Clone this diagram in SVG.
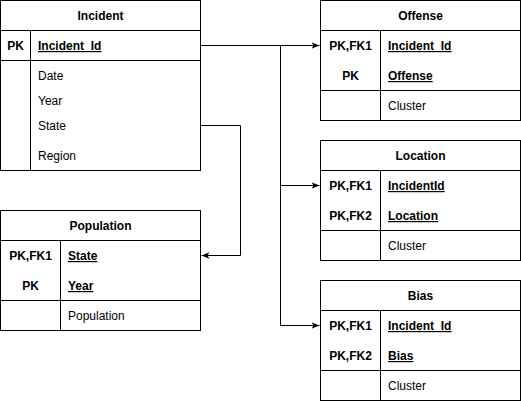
<svg xmlns="http://www.w3.org/2000/svg" width="521" height="402" viewBox="0 0 521 402">
<defs>
<style>
text{font-family:"Liberation Sans",Arial,sans-serif;font-size:12px;fill:#000}
.h{font-weight:bold;text-anchor:middle}
.k{font-weight:bold;text-anchor:middle}
.u{font-weight:bold;text-decoration:underline}
.box{fill:#fff;stroke:#000;stroke-width:1}
.ln{stroke:#000;stroke-width:1;fill:none}
</style>
<marker id="arr" viewBox="0 0 10 10" refX="10" refY="5" markerWidth="8" markerHeight="8" markerUnits="userSpaceOnUse" orient="auto">
<path d="M0,1 L10,5 L0,9 L2.5,5 Z" fill="#000"/>
</marker>
</defs>
<rect width="521" height="402" fill="#fff"/>
<g id="connectors">
<path class="ln" d="M200.5,45.5 H319.5" marker-end="url(#arr)"/>
<path class="ln" d="M280.5,45.5 V325.5 H319.5" marker-end="url(#arr)"/>
<path class="ln" d="M280.5,185.5 H319.5" marker-end="url(#arr)"/>
<path class="ln" d="M200.5,125.5 H240.5 V255.5 H201.5" marker-end="url(#arr)"/>
</g>
<g id="incident">
<rect class="box" x="0.5" y="0.5" width="200" height="170"/>
<path class="ln" d="M0.5,30.5 H200.5 M0.5,60.5 H200.5 M30.5,30.5 V170.5"/>
<text class="h" x="100.5" y="20">Incident</text>
<text class="k" x="15.5" y="50">PK</text>
<text class="u" x="38" y="50">Incident_Id</text>
<text x="38" y="80">Date</text>
<text x="38" y="105">Year</text>
<text x="38" y="130">State</text>
<text x="38" y="160">Region</text>
</g>
<g id="offense">
<rect class="box" x="320.5" y="0.5" width="200" height="120"/>
<path class="ln" d="M320.5,30.5 H520.5 M320.5,90.5 H520.5 M380.5,30.5 V120.5"/>
<text class="h" x="420.5" y="20">Offense</text>
<text class="k" x="350.5" y="50">PK,FK1</text>
<text class="k" x="350.5" y="80">PK</text>
<text class="u" x="388" y="50">Incident_Id</text>
<text class="u" x="388" y="80">Offense</text>
<text x="388" y="110">Cluster</text>
</g>
<g id="location">
<rect class="box" x="320.5" y="140.5" width="200" height="120"/>
<path class="ln" d="M320.5,170.5 H520.5 M320.5,230.5 H520.5 M380.5,170.5 V260.5"/>
<text class="h" x="420.5" y="160">Location</text>
<text class="k" x="350.5" y="190">PK,FK1</text>
<text class="k" x="350.5" y="220">PK,FK2</text>
<text class="u" x="388" y="190">IncidentId</text>
<text class="u" x="388" y="220">Location</text>
<text x="388" y="250">Cluster</text>
</g>
<g id="bias">
<rect class="box" x="320.5" y="280.5" width="200" height="120"/>
<path class="ln" d="M320.5,310.5 H520.5 M320.5,370.5 H520.5 M380.5,310.5 V400.5"/>
<text class="h" x="420.5" y="300">Bias</text>
<text class="k" x="350.5" y="330">PK,FK1</text>
<text class="k" x="350.5" y="360">PK,FK2</text>
<text class="u" x="388" y="330">Incident_Id</text>
<text class="u" x="388" y="360">Bias</text>
<text x="388" y="390">Cluster</text>
</g>
<g id="population">
<rect class="box" x="0.5" y="210.5" width="200" height="120"/>
<path class="ln" d="M0.5,240.5 H200.5 M0.5,300.5 H200.5 M60.5,240.5 V330.5"/>
<text class="h" x="100.5" y="230">Population</text>
<text class="k" x="30.5" y="260">PK,FK1</text>
<text class="k" x="30.5" y="290">PK</text>
<text class="u" x="68" y="260">State</text>
<text class="u" x="68" y="290">Year</text>
<text x="68" y="320">Population</text>
</g>
</svg>
